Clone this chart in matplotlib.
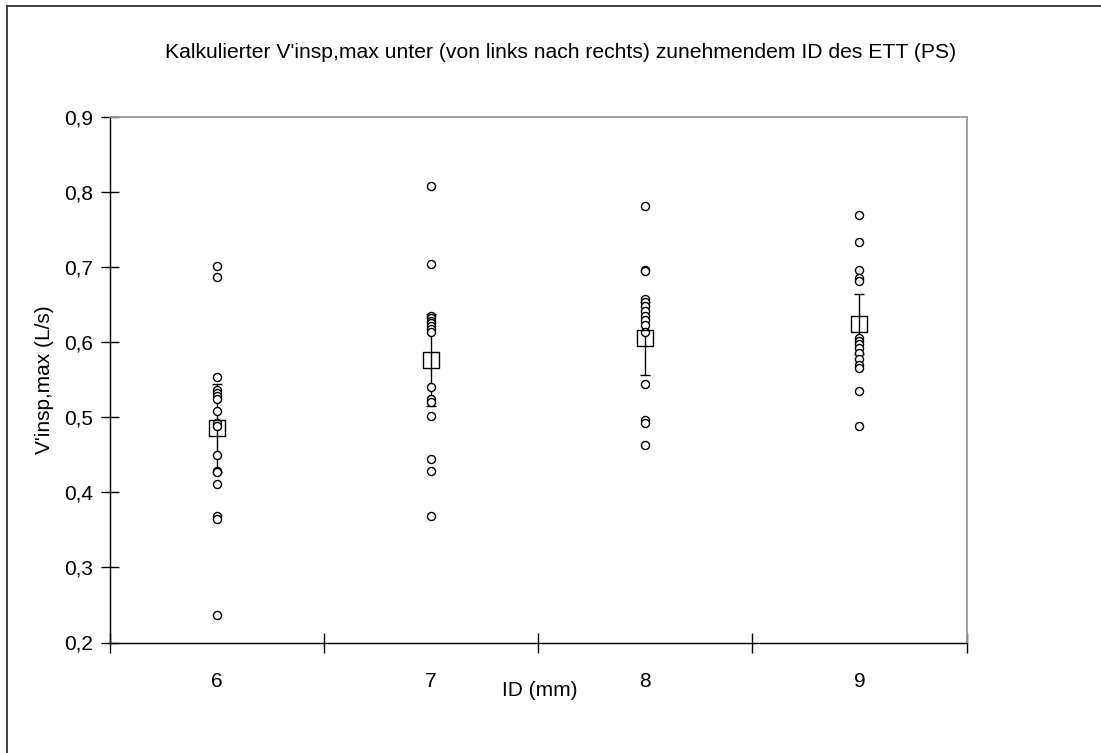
import numpy as np
import matplotlib
matplotlib.use("Agg")
import matplotlib.pyplot as plt
from matplotlib.lines import Line2D

plt.rcParams['font.family'] = ['Liberation Sans', 'DejaVu Sans']

# Daten
kategorien = ['6', '7', '8', '9']

werte_6 = [0.702, 0.687, 0.554, 0.537, 0.533, 0.528, 0.525, 0.508, 0.492, 0.489,
           0.450, 0.428, 0.427, 0.411, 0.368, 0.364, 0.236]
werte_7 = [0.808, 0.704, 0.635, 0.632, 0.628, 0.625, 0.622, 0.618, 0.614, 0.540,
           0.524, 0.521, 0.502, 0.445, 0.429, 0.368]
werte_8 = [0.782, 0.696, 0.695, 0.657, 0.653, 0.648, 0.641, 0.635, 0.630, 0.623,
           0.614, 0.545, 0.497, 0.492, 0.463]
werte_9 = [0.770, 0.733, 0.696, 0.685, 0.681, 0.605, 0.601, 0.597, 0.592, 0.586,
           0.578, 0.570, 0.565, 0.535, 0.488]

mittelwerte = [0.486, 0.576, 0.605, 0.624]
fehler = [0.059, 0.061, 0.049, 0.040]

alle_werte = [werte_6, werte_7, werte_8, werte_9]

fig = plt.figure(figsize=(11.01, 7.53), dpi=100)
ax = fig.add_axes([110 / 1101, 1 - 642.5 / 753, (966.5 - 110) / 1101, (642.5 - 117) / 753])

# Rahmen (nur links und oben sichtbar)
fig.add_artist(Line2D([7 / 1101, 7 / 1101], [0, 1 - 6 / 753], transform=fig.transFigure, color='#333333', lw=1.3))
fig.add_artist(Line2D([7 / 1101, 1], [1 - 6 / 753, 1 - 6 / 753], transform=fig.transFigure, color='#333333', lw=1.3))

for i, w in enumerate(alle_werte):
    ax.plot([i] * len(w), w, 'o', mfc='white', mec='black', ms=5.8, mew=1.0, zorder=3)

ax.errorbar(range(4), mittelwerte, yerr=fehler, fmt='none', ecolor='black', elinewidth=1.0,
            capsize=3.5, capthick=1.0, zorder=2)
ax.plot(range(4), mittelwerte, 's', mfc='none', mec='black', ms=12, mew=1.0, zorder=4)

ax.set_xlim(-0.5, 3.5)
ax.set_ylim(0.2, 0.9)
ax.set_yticks(np.arange(0.2, 0.91, 0.1))
ax.set_yticklabels([f'{v:.1f}'.replace('.', ',') for v in np.arange(0.2, 0.91, 0.1)], fontsize=15)
ax.tick_params(axis='y', direction='inout', length=13, width=1.0, pad=6)

ax.set_xticks([-0.5, 0.5, 1.5, 2.5, 3.5])
ax.set_xticklabels([])
ax.set_xticks(range(4), minor=True)
ax.set_xticklabels(kategorien, minor=True, fontsize=15)
ax.tick_params(axis='x', which='major', direction='inout', length=14, width=1.0)
ax.tick_params(axis='x', which='minor', length=0, pad=21)

for s in ['top', 'right']:
    ax.spines[s].set_color('#999999')
    ax.spines[s].set_linewidth(1.3)
for s in ['left', 'bottom']:
    ax.spines[s].set_color('black')
    ax.spines[s].set_linewidth(1.0)

fig.text(561 / 1101, 1 - 53 / 753, "Kalkulierter V'insp,max unter (von links nach rechts) zunehmendem ID des ETT (PS)",
         ha='center', va='center', fontsize=15.2)
fig.text(540 / 1101, 1 - 690 / 753, 'ID (mm)', ha='center', va='center', fontsize=15)
fig.text(45 / 1101, 1 - 380 / 753, "V'insp,max (L/s)", ha='center', va='center', rotation=90, fontsize=15)

fig.savefig('out.png', dpi=100)
